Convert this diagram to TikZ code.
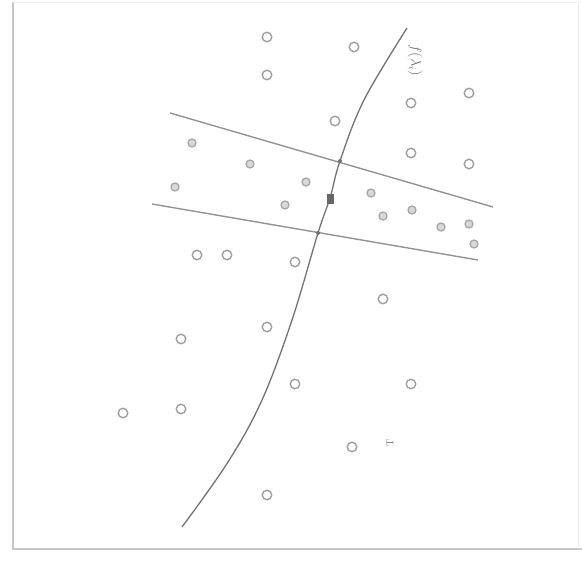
\documentclass[tikz,border=0pt]{standalone}
\begin{document}
\begin{tikzpicture}[x=1pt,y=-1pt,
  frameline/.style={draw=gray!45,line width=1.8pt},
  outpt/.style={circle,draw=gray!75,line width=1.4pt,minimum size=9.5pt,inner sep=0pt},
  inpt/.style={circle,draw=gray!70,fill=gray!30,line width=1.3pt,minimum size=8pt,inner sep=0pt},
  bandline/.style={draw=gray!85,line width=1.4pt},
  crv/.style={draw=gray!90!black,line width=1.3pt},
  xdot/.style={circle,fill=gray!90!black,inner sep=0pt,minimum size=4pt}]
\useasboundingbox (0,0) rectangle (582,565);
% frame
\coordinate (fA) at (13,2);
\coordinate (fB) at (13,549);
\coordinate (fC) at (582,549);
\draw[frameline] (fA) -- (fB) -- (fC);
\draw[draw=gray!15,line width=1pt] (fA) -- (578,2) -- (578,549);
% curve
\draw[crv] plot[smooth,tension=0.6] coordinates {(182,527) (228,462) (262,400) (292,320) (318,233) (330,198) (340,161) (364,100) (407,28)};
% band lines
\coordinate (u1) at (170,113);
\coordinate (u2) at (493,207);
\coordinate (l1) at (152,204);
\coordinate (l2) at (478,260);
\draw[bandline] (u1) -- (u2);
\draw[bandline] (l1) -- (l2);
\node[xdot] (pu) at (340,161) {};
\node[xdot] (pl) at (318,233) {};
\node[rectangle,fill=gray!80!black,minimum width=7pt,minimum height=10pt,inner sep=0pt] (sq) at (330,199) {};
% outside points
\foreach \n/\x/\y in {o1/267/37,o2/354/47,o3/267/75,o4/469/93,o5/411/103,o6/335/121,o7/411/153,o8/469/164,o9/197/255,o10/227/255,o11/295/262,o12/383/299,o13/267/327,o14/181/339,o15/295/384,o16/411/384,o17/123/413,o18/181/409,o19/352/447,o20/267/495}
  \node[outpt] (\n) at (\x,\y) {};
% band points
\foreach \n/\x/\y in {i1/192/143,i2/250/164,i3/306/182,i4/175/187,i5/371/193,i6/285/205,i7/412/210,i8/383/216,i9/441/227,i10/469/224,i11/474/244}
  \node[inpt] (\n) at (\x,\y) {};
% labels
\node[rotate=-90,font=\Large,text=gray!85!black] (lab) at (415,60) {$f(\lambda_i)$};
\node[rotate=90,font=\normalsize,text=gray!85!black] (tl) at (390,443) {T};
\end{tikzpicture}
\end{document}
